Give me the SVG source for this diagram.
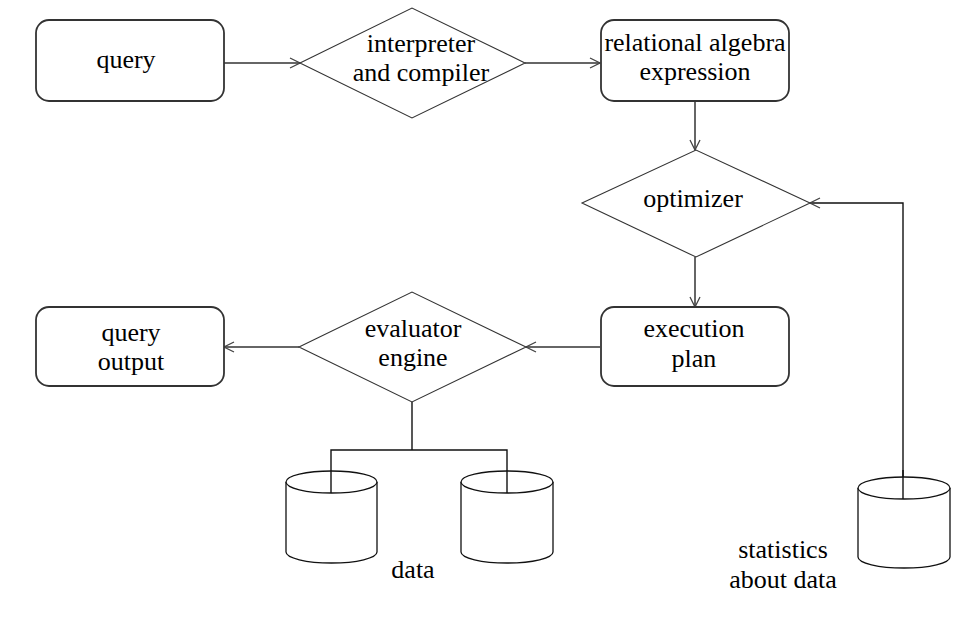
<svg xmlns="http://www.w3.org/2000/svg" width="967" height="632" viewBox="0 0 967 632">
<style>
text{font-family:"Liberation Serif","Times New Roman",serif;font-size:26px;fill:#000;text-anchor:middle}
.box{fill:#fff;stroke:#333;stroke-width:1.8}
.dia{fill:#fff;stroke:#333;stroke-width:1.1}
.con{fill:none;stroke:#666;stroke-width:2}
.blk{fill:none;stroke:#111;stroke-width:1.4}
.cyl{fill:#fff;stroke:#111;stroke-width:1.3}
</style>
<defs>
<marker id="arr" markerUnits="userSpaceOnUse" viewBox="0 0 12 12" refX="11" refY="6" markerWidth="12" markerHeight="12" orient="auto">
<path d="M1,1 L11,6 L1,11" fill="none" stroke="#444" stroke-width="1.3"/>
</marker>
</defs>
<g id="connectors">
<line class="con" x1="224" y1="63" x2="300" y2="63" marker-end="url(#arr)"/>
<line class="con" x1="525" y1="63" x2="600" y2="63" marker-end="url(#arr)"/>
<line class="con" x1="695" y1="101" x2="695" y2="150" marker-end="url(#arr)"/>
<line class="con" x1="695" y1="257" x2="695" y2="307" marker-end="url(#arr)"/>
<polyline class="blk" points="903,487 903,203 810,203" marker-end="url(#arr)"/>
<line class="con" x1="600" y1="347" x2="526" y2="347" marker-end="url(#arr)"/>
<line class="con" x1="299" y1="347" x2="224" y2="347" marker-end="url(#arr)"/>
<polyline class="blk" points="412,402 412,450"/>
<polyline class="blk" points="331,493 331,450 507,450 507,493"/>
</g>
<g id="query">
<rect class="box" x="36" y="20" width="188" height="81" rx="13"/>
<text x="126" y="68">query</text>
</g>
<g id="interpreter">
<polygon class="dia" points="300,63 412,8 525,63 412,118"/>
<text x="421" y="52">interpreter</text>
<text x="421" y="81">and compiler</text>
</g>
<g id="relational">
<rect class="box" x="601" y="20" width="188" height="81" rx="13"/>
<text x="695" y="51">relational algebra</text>
<text x="695" y="80">expression</text>
</g>
<g id="optimizer">
<polygon class="dia" points="582,203 696,150 810,203 696,257"/>
<text x="693" y="207">optimizer</text>
</g>
<g id="execution">
<rect class="box" x="601" y="307" width="188" height="79" rx="13"/>
<text x="694" y="337">execution</text>
<text x="694" y="367">plan</text>
</g>
<g id="evaluator">
<polygon class="dia" points="299,347 412,292 526,347 412,402"/>
<text x="413" y="337">evaluator</text>
<text x="413" y="366">engine</text>
</g>
<g id="output">
<rect class="box" x="36" y="307" width="188" height="79" rx="13"/>
<text x="131" y="341">query</text>
<text x="131" y="370">output</text>
</g>
<g id="data1">
<path class="cyl" d="M286,482 L286,552 A45.5,11 0 0 0 377,552 L377,482"/>
<ellipse class="cyl" cx="331.5" cy="482" rx="45.5" ry="11"/>
<line class="blk" x1="331" y1="471" x2="331" y2="493"/>
</g>
<g id="data2">
<path class="cyl" d="M461,482 L461,552 A46,11 0 0 0 553,552 L553,482"/>
<ellipse class="cyl" cx="507" cy="482" rx="46" ry="11"/>
<line class="blk" x1="507" y1="471" x2="507" y2="493"/>
</g>
<text x="413" y="578">data</text>
<g id="stats">
<path class="cyl" d="M858,488 L858,557 A46,11 0 0 0 950,557 L950,488"/>
<ellipse class="cyl" cx="904" cy="488" rx="46" ry="11"/>
<line class="blk" x1="903" y1="470" x2="903" y2="499"/>
<text x="783" y="558">statistics</text>
<text x="783" y="588">about data</text>
</g>
</svg>
